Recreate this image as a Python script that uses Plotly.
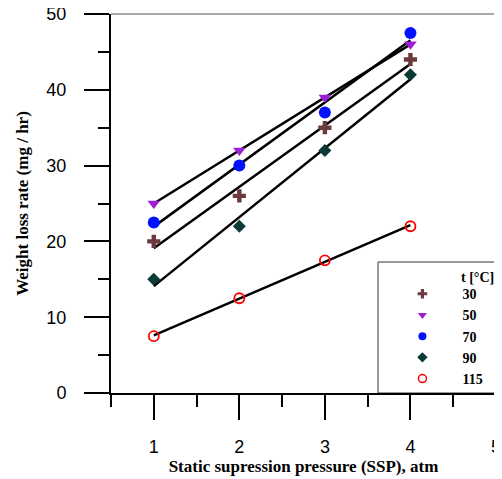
import numpy as np
import plotly.graph_objects as go

pressure = [1, 2, 3, 4]
temps = ["30", "50", "70", "90", "115"]
rate_30 = [20, 26, 35, 44]
rate_50 = [25, 32, 39, 46]
rate_70 = [22.5, 30, 37, 47.5]
rate_90 = [15, 22, 32, 42]
rate_115 = [7.5, 12.5, 17.5, 22]

series = [rate_30, rate_50, rate_70, rate_90, rate_115]
symbols = ["cross", "triangle-down", "circle", "diamond", "circle-open"]
colors = ["#6B3A3E", "#9B1FD6", "#0011FF", "#0B3B36", "#FF0000"]
sizes = [11, 11, 12, 10, 10]
leg_sizes = [8, 8, 8, 8, 8]

fig = go.Figure()
xs = np.array(pressure, dtype=float)
for vals in series:
    m, b = np.polyfit(xs, np.array(vals, dtype=float), 1)
    xf = np.array([xs.min(), xs.max()])
    fig.add_trace(go.Scatter(x=xf, y=m * xf + b, mode="lines",
                             line=dict(color="black", width=2.5),
                             showlegend=False, hoverinfo="skip"))
for t, vals, s, c, sz in zip(temps, series, symbols, colors, sizes):
    lw = 1.8 if s == "circle-open" else 0
    fig.add_trace(go.Scatter(x=pressure, y=vals, mode="markers", name=t,
                             marker=dict(symbol=s, color=c, size=sz,
                                         line=dict(color=c, width=lw)),
                             showlegend=False))
for t, s, c, sz in zip(temps, symbols, colors, leg_sizes):
    lw = 1.5 if s == "circle-open" else 0
    fig.add_trace(go.Scatter(x=[None], y=[None], mode="markers", name="<b>" + t + "</b>",
                             marker=dict(symbol=s, color=c, size=sz,
                                         line=dict(color=c, width=lw))))

tickfont = dict(family="Liberation Sans, Arial", size=18, color="black")
titlefont = dict(family="Liberation Serif, Times New Roman", size=17, color="black")

fig.update_layout(
    width=494, height=471,
    margin=dict(l=103, r=6, t=6, b=86),
    plot_bgcolor="white", paper_bgcolor="white",
    showlegend=True,
    legend=dict(x=0.705, y=0.303, xanchor="left", yanchor="top",
                bgcolor="rgba(0,0,0,0)", borderwidth=0, itemwidth=70,
                font=dict(family="Liberation Serif, Times New Roman", size=14, color="black"),
                tracegroupgap=0),
    xaxis=dict(range=[0.5, 5.0001], tick0=0, dtick=1, ticks="outside", ticklen=25, tickwidth=2,
               tickcolor="black", showline=True, linecolor="black", linewidth=2,
               showgrid=False, zeroline=False, tickfont=tickfont, ticklabelstandoff=11,
               automargin=False, ticklabeloverflow="allow",
               minor=dict(dtick=0.5, ticks="outside", ticklen=12, tickwidth=2, tickcolor="black", showgrid=False),
               title=dict(text="<b>Static supression pressure (SSP), atm</b>", font=titlefont, standoff=4)),
    yaxis=dict(range=[0, 50], tick0=0, dtick=10, ticks="outside", ticklen=25, tickwidth=2,
               tickcolor="black", showline=True, linecolor="black", linewidth=2, mirror=True,
               showgrid=False, zeroline=False, tickfont=tickfont, ticklabelstandoff=14,
               automargin=False, ticklabeloverflow="allow",
               minor=dict(dtick=5, ticks="outside", ticklen=11, tickwidth=2, tickcolor="black", showgrid=False),
               title=dict(text="<b>Weight loss rate (mg / hr)</b>", font=titlefont, standoff=13)),
    shapes=[
        dict(type="line", xref="paper", yref="paper", x0=0, x1=1, y0=1, y1=1,
             line=dict(color="#555555", width=1)),
        dict(type="rect", xref="paper", yref="paper", x0=0.6935, x1=1.0, y0=0, y1=0.3456,
             line=dict(color="#333333", width=1), fillcolor="white", layer="below"),
    ],
    annotations=[
        dict(text="<b>t [°C]</b>", xref="paper", yref="paper", x=0.905, y=0.306,
             xanchor="left", yanchor="middle", showarrow=False,
             font=dict(family="Liberation Serif, Times New Roman", size=14, color="black")),
    ],
)

fig.write_html("out.html")
